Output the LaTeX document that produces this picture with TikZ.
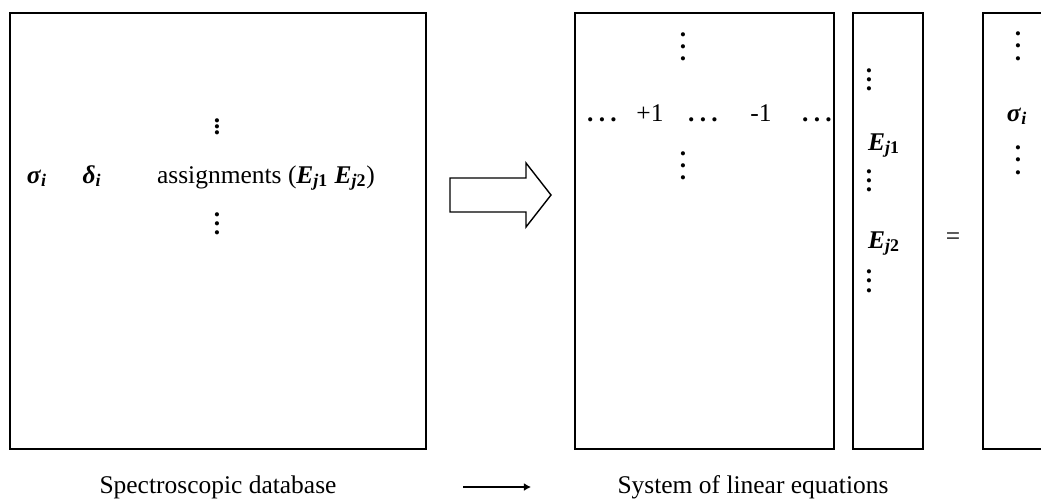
\documentclass[tikz,border=0pt]{standalone}
\usepackage{fontspec}
\setmainfont{Liberation Serif}
\usepackage{tikz}
\usetikzlibrary{positioning,arrows.meta}

\newcommand{\vdotsep}[1]{\vbox{\baselineskip=#1\lineskiplimit=0pt\hbox{\bfseries .}\hbox{\bfseries .}\hbox{\bfseries .}}}
\newcommand{\hdotsep}{\textbf{.\kern3pt.\kern3pt.}}
\newcommand{\bsym}[2]{\textbf{\textit{#1}}\textsubscript{\textbf{\textit{#2}}}}
\newcommand{\Ej}[1]{\textbf{\textit{E}}\textsubscript{\textbf{\textit{j}#1}}}

\begin{document}
\begin{tikzpicture}[x=0.02cm, y=-0.02cm,
    every node/.style={font=\fontsize{14.5pt}{17pt}\selectfont},
    matbox/.style={draw, rectangle, line width=1.1pt, outer sep=0pt, inner sep=0pt, minimum height=8.72cm},
    node distance=0.38cm]

    \useasboundingbox (0,0) rectangle (1041,498);

    % Define boxes
    \node (db) [matbox, minimum width=8.32cm] at (218,231) {};
    \node (coef) [matbox, minimum width=5.18cm, right=2.98cm of db] {};
    \node (unk) [matbox, minimum width=1.4cm, right=of coef] {};
    \node (rhs) [matbox, minimum width=1.4cm, right=1.2cm of unk] {};

    % Database entries
    \node (dbup) at (217,127) {\vdotsep{3.3pt}};
    \node (sig) [anchor=base] at (37,183) {\bsym{σ}{i}};
    \node (del) [anchor=base] at (92,183) {\bsym{δ}{i}};
    \node (asg) [anchor=base] at (266,183) {assignments (\Ej{1}\ \Ej{2})};
    \node (dblow) at (217,224) {\vdotsep{5pt}};

    % Coefficient matrix
    \node (coefup) at (683,47) {\vdotsep{6.8pt}};
    \node (rowa) [anchor=base] at (602,121) {\hdotsep};
    \node (plus) [anchor=base] at (650,121) {+1};
    \node (rowb) [anchor=base] at (703,121) {\hdotsep};
    \node (minus) [anchor=base] at (761,121) {-1};
    \node (rowc) [anchor=base] at (817,121) {\hdotsep};
    \node (coeflow) at (683,166) {\vdotsep{6.8pt}};

    % Unknowns
    \node (unka) at (869,80) {\vdotsep{5.1pt}};
    \node (ea) [anchor=base] at (884,150) {\Ej{1}};
    \node (unkb) at (869,181) {\vdotsep{5pt}};
    \node (eb) [anchor=base] at (884,248) {\Ej{2}};
    \node (unkc) at (869,281) {\vdotsep{5.5pt}};

    \node (eq) at (953,239) {=};

    % Right-hand side
    \node (rhsup) at (1018,46) {\vdotsep{7pt}};
    \node (sigr) [anchor=base] at (1017,121) {\bsym{σ}{i}};
    \node (rhslow) at (1018,160) {\vdotsep{7pt}};

    % Big arrow
    \draw[line width=0.8pt] (450,178) -- (526,178) -- (526,163) -- (551,195)
        -- (526,227) -- (526,212) -- (450,212) -- cycle;

    % Captions
    \node (dblabel) [anchor=base] at (218,493) {Spectroscopic database};
    \node (eqlabel) [anchor=base] at (753,493) {System of linear equations};
    \coordinate (from) at (463,487);
    \coordinate (to) at (531,487);
    \draw[-{Latex[length=4pt,width=4.5pt]}, line width=0.8pt] (from) -- (to);

\end{tikzpicture}
\end{document}
